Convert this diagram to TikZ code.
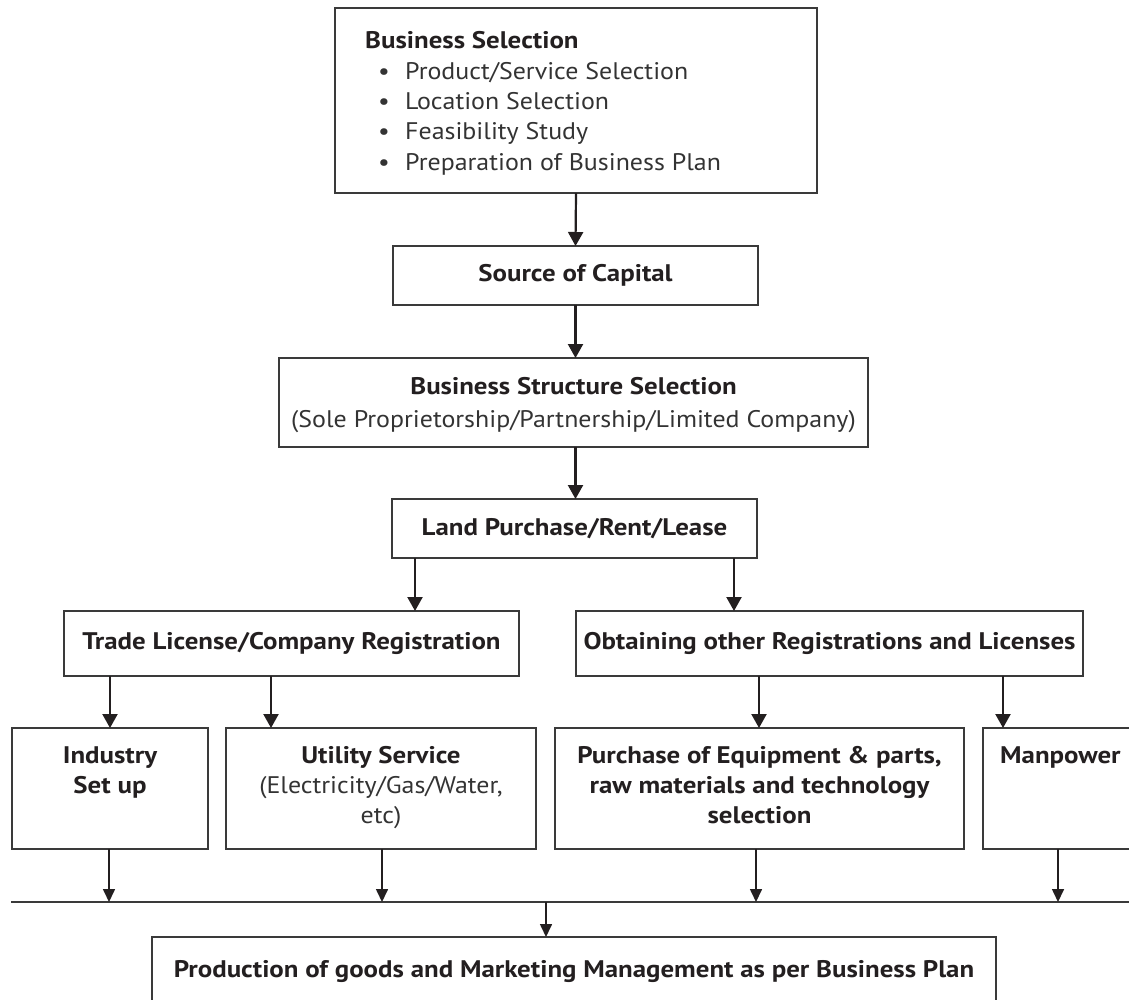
\documentclass[tikz,border=0pt]{standalone}
\usepackage{fontspec}
\setmainfont{PT Sans}
\newfontfamily\regf{PT Sans}[FakeStretch=1.08]
\newfontfamily\boldf{PT Sans}[FakeStretch=1.12]
\usetikzlibrary{arrows.meta}
\definecolor{ink}{HTML}{231F20}
\definecolor{lite}{HTML}{333333}
\definecolor{edge}{HTML}{3A3A3A}
\begin{document}
\begin{tikzpicture}[x=1pt,y=-1pt,
  box/.style={draw=edge, line width=1.4pt, inner sep=0pt, outer sep=0pt, anchor=north west},
  cbox/.style={box, font=\boldf\fontsize{24}{30}\selectfont\bfseries, text=ink},
  rt/.style={text=lite, inner sep=0pt, font=\regf\fontsize{24}{30}\selectfont},
  bt/.style={text=ink, inner sep=0pt, font=\boldf\fontsize{24}{30}\selectfont\bfseries},
  arr/.style={draw=ink, line width=2.2pt, -{Triangle[width=15pt,length=14pt]}},
  arrs/.style={draw=ink, line width=1.6pt, -{Triangle[width=12pt,length=13pt]}},
  bus/.style={draw=edge, line width=1.4pt}]
\useasboundingbox (0,0) rectangle (1129,999);
\clip (0,0) rectangle (1129,999);

% ---- boxes ----
\node[box, minimum width=482pt, minimum height=185pt] (bsel) at (335,8) {};
\node[cbox, minimum width=365pt, minimum height=59pt] (src) at (393,246) {Source of Capital};
\node[box, minimum width=589pt, minimum height=89pt] (struct) at (279,358) {};
\node[cbox, minimum width=365pt, minimum height=59pt] (land) at (392,499) {Land Purchase/Rent/Lease};
\node[cbox, minimum width=455pt, minimum height=65pt] (trade) at (64,611) {Trade License/Company Registration};
\node[cbox, minimum width=507pt, minimum height=65pt] (obtain) at (576,611) {Obtaining other Registrations and Licenses};
\node[box, minimum width=196pt, minimum height=121pt] (industry) at (12,728) {};
\node[box, minimum width=310pt, minimum height=121pt] (utility) at (226,728) {};
\node[box, minimum width=409pt, minimum height=121pt] (purchase) at (555,728) {};
\node[box, minimum width=170pt, minimum height=121pt] (manpower) at (983,728) {};
\node[box, minimum width=844pt, minimum height=90pt] (prod) at (152,937) {};

% ---- texts ----
\node[bt, anchor=base west] (bselH) at (365,48) {Business Selection};
\node[rt, anchor=base] (b1) at (384,79) {\textbullet};
\node[rt, anchor=base] (b2) at (384,109) {\textbullet};
\node[rt, anchor=base] (b3) at (384,139) {\textbullet};
\node[rt, anchor=base] (b4) at (384,170) {\textbullet};
\node[rt, anchor=base west] (i1) at (405,79) {Product/Service Selection};
\node[rt, anchor=base west] (i2) at (405,109) {Location Selection};
\node[rt, anchor=base west] (i3) at (405,139) {Feasibility Study};
\node[rt, anchor=base west] (i4) at (405,170) {Preparation of Business Plan};
\node[bt, anchor=base] (structH) at (573.5,394) {Business Structure Selection};
\node[rt, anchor=base] (structS) at (573.5,427) {(Sole Proprietorship/Partnership/Limited Company)};
\node[bt, anchor=base] (indA) at (110,763) {Industry};
\node[bt, anchor=base] (indB) at (110,793) {Set up};
\node[bt, anchor=base] (utA) at (381,763) {Utility Service};
\node[rt, anchor=base] (utB) at (381,793) {(Electricity/Gas/Water,};
\node[rt, anchor=base] (utC) at (381,823) {etc)};
\node[bt, anchor=base] (puA) at (759.5,763) {Purchase of Equipment \& parts,};
\node[bt, anchor=base] (puB) at (759.5,793) {raw materials and technology};
\node[bt, anchor=base] (puC) at (759.5,823) {selection};
\node[bt, anchor=base west] (mpA) at (1000,763) {Manpower};
\node[bt, anchor=base] (prodT) at (574,977) {Production of goods and Marketing Management as per Business Plan};

% ---- x positions of connectors ----
\coordinate (xLT) at (415,0);
\coordinate (xLO) at (734,0);
\coordinate (xTI) at (110,0);
\coordinate (xTU) at (271,0);
\coordinate (xOP) at (759,0);
\coordinate (xOM) at (1003,0);
\coordinate (xI) at (109,0);
\coordinate (xU) at (382,0);
\coordinate (xP) at (756,0);
\coordinate (xM) at (1058,0);
\coordinate (xB) at (546,0);
\coordinate (busL) at (11,902);
\coordinate (busR) at (1135,902);

% ---- connectors ----
\draw[arr] (bsel.south) -- (src.north);
\draw[arr] (src.south) -- (struct.north -| src.south);
\draw[arr] (struct.south -| src.south) -- (land.north -| src.south);
\draw[arr] (xLT |- land.south) -- (xLT |- trade.north);
\draw[arr] (xLO |- land.south) -- (xLO |- obtain.north);
\draw[arr] (xTI |- trade.south) -- (xTI |- industry.north);
\draw[arr] (xTU |- trade.south) -- (xTU |- utility.north);
\draw[arr] (xOP |- obtain.south) -- (xOP |- purchase.north);
\draw[arr] (xOM |- obtain.south) -- (xOM |- manpower.north);
\draw[bus] (busL) -- (busR);
\draw[arrs] (xI |- industry.south) -- (xI |- busL);
\draw[arrs] (xU |- utility.south) -- (xU |- busL);
\draw[arrs] (xP |- purchase.south) -- (xP |- busL);
\draw[arrs] (xM |- manpower.south) -- (xM |- busL);
\draw[arrs] (xB |- busL) -- (xB |- prod.north);
\end{tikzpicture}
\end{document}
